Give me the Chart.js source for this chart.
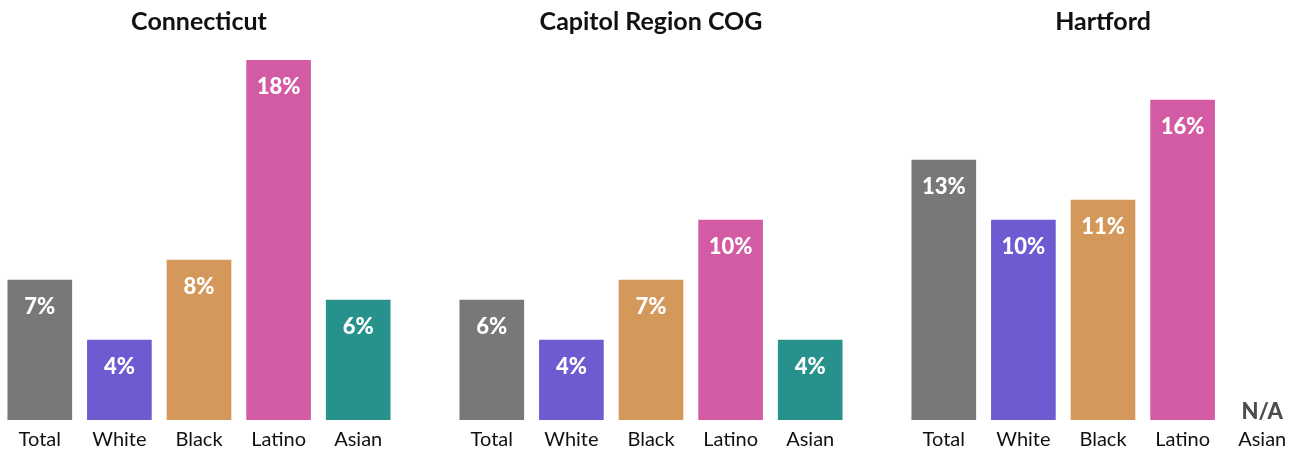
<!DOCTYPE html>
<html>
<head>
<meta charset="utf-8">
<script src="https://cdn.jsdelivr.net/npm/chart.js@4.4.1/dist/chart.umd.min.js"></script>
<style>
  html, body { margin: 0; padding: 0; background: #fff; overflow: hidden; }
  #wrap { position: relative; width: 1298px; height: 450px; overflow: hidden; }
  .panel { position: absolute; top: 0; width: 398px; height: 462px; }
</style>
</head>
<body>
<div id="wrap">
  <div class="panel" style="left:0px"><canvas id="c0" width="398" height="462"></canvas></div>
  <div class="panel" style="left:452px"><canvas id="c1" width="398" height="462"></canvas></div>
  <div class="panel" style="left:904px"><canvas id="c2" width="398" height="462"></canvas></div>
</div>
<script>
// Share of residents by race/ethnicity, per region (percent)
const groups = ['Total', 'White', 'Black', 'Latino', 'Asian'];
const regionTitles = ['Connecticut', 'Capitol Region COG', 'Hartford'];
const connecticutValues = [7, 4, 8, 18, 6];
const capitolValues = [6, 4, 7, 10, 4];
const hartfordValues = [13, 10, 11, 16, null]; // no estimate for Asian
const barColors = ['#787878', '#6f5bd1', '#d4985b', '#d25ba4', '#27918b'];

const FONT = 'Lato, "Source Sans Pro", sans-serif';

// writes the value inside the top of each bar, or N/A when missing
const valueLabels = {
  id: 'valueLabels',
  afterDatasetsDraw(chart) {
    const ctx = chart.ctx;
    const meta = chart.getDatasetMeta(0);
    const data = chart.data.datasets[0].data;
    ctx.save();
    ctx.textAlign = 'center';
    ctx.textBaseline = 'middle';
    ctx.font = '900 22px ' + FONT;
    meta.data.forEach((bar, i) => {
      if (data[i] == null) {
        ctx.fillStyle = '#4d4d4d';
        ctx.fillText('N/A', bar.x, chart.chartArea.bottom - 8);
      } else {
        ctx.fillStyle = '#ffffff';
        ctx.fillText(data[i] + '%', bar.x, bar.y + 27);
      }
    });
    ctx.restore();
  }
};

function makeChart(id, title, values) {
  return new Chart(document.getElementById(id), {
    type: 'bar',
    data: {
      labels: groups,
      datasets: [{
        data: values,
        backgroundColor: barColors,
        barThickness: 64
      }]
    },
    options: {
      responsive: false,
      animation: false,
      layout: { padding: { left: 0, right: 0, top: 0, bottom: 2 } },
      plugins: {
        legend: { display: false },
        tooltip: { enabled: false },
        title: {
          display: true,
          text: title,
          color: '#111111',
          font: { family: FONT, size: 25, weight: 'bold', lineHeight: 1.2 },
          padding: { top: 7, bottom: 23 }
        }
      },
      scales: {
        x: {
          grid: { display: false, drawTicks: false },
          border: { display: false },
          ticks: {
            color: '#111111',
            padding: 8,
            font: { family: FONT, size: 20 }
          }
        },
        y: {
          display: false,
          min: 0,
          max: 18
        }
      }
    },
    plugins: [valueLabels]
  });
}

makeChart('c0', regionTitles[0], connecticutValues);
makeChart('c1', regionTitles[1], capitolValues);
makeChart('c2', regionTitles[2], hartfordValues);
</script>
</body>
</html>
